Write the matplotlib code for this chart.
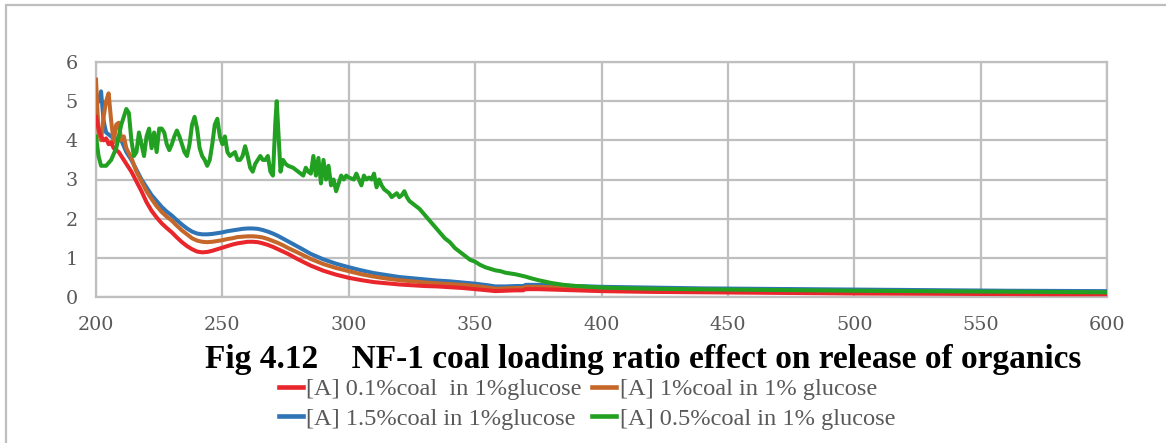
import matplotlib
matplotlib.use("Agg")
import matplotlib.pyplot as plt
from matplotlib.lines import Line2D
from matplotlib.patches import Rectangle

# Wavelength grid (nm) shared by the three smooth spectra
wl = [200, 201, 202, 203, 204, 205, 206, 207, 208, 209, 210, 211, 212, 214, 216,
      218, 220, 222, 224, 226, 228, 230, 232, 234, 236, 238, 240, 242, 244, 246,
      248, 250, 252, 254, 256, 258, 260, 262, 264, 266, 268, 270, 272, 274, 276,
      278, 280, 285, 290, 295, 300, 305, 310, 315, 320, 325, 330, 335, 340, 345,
      350, 355, 358, 362, 366, 369, 370, 375, 380, 390, 400, 420, 440, 460, 480,
      500, 520, 540, 560, 580, 600]

coal_01 = [4.6, 4.3, 4.1, 4.0, 4.05, 3.9, 3.95, 3.8, 3.75, 3.7, 3.6, 3.5, 3.4, 3.2, 2.95,
           2.7, 2.42, 2.2, 2.03, 1.88, 1.76, 1.65, 1.52, 1.4, 1.3, 1.22, 1.16, 1.14, 1.15, 1.18,
           1.22, 1.26, 1.3, 1.34, 1.37, 1.39, 1.41, 1.41, 1.4, 1.37, 1.33, 1.28, 1.22, 1.16, 1.1,
           1.03, 0.96, 0.8, 0.67, 0.57, 0.49, 0.43, 0.38, 0.35, 0.32, 0.3, 0.28, 0.27, 0.25, 0.23,
           0.2, 0.17, 0.15, 0.16, 0.17, 0.17, 0.2, 0.2, 0.19, 0.17, 0.15, 0.13, 0.12, 0.11, 0.1,
           0.09, 0.085, 0.08, 0.075, 0.07, 0.07]

coal_1 = [5.55, 4.2, 4.0, 4.6, 5.0, 5.2, 4.5, 3.95, 4.4, 4.45, 4.0, 4.1, 3.8, 3.55, 3.2,
          2.95, 2.7, 2.5, 2.32, 2.17, 2.05, 1.95, 1.82, 1.7, 1.6, 1.5, 1.44, 1.41, 1.4, 1.41,
          1.43, 1.45, 1.48, 1.5, 1.53, 1.54, 1.55, 1.55, 1.54, 1.52, 1.48, 1.43, 1.38, 1.32, 1.25,
          1.19, 1.13, 0.97, 0.84, 0.74, 0.66, 0.58, 0.52, 0.47, 0.43, 0.4, 0.37, 0.35, 0.33, 0.31,
          0.28, 0.24, 0.21, 0.22, 0.23, 0.23, 0.26, 0.26, 0.25, 0.23, 0.21, 0.19, 0.17, 0.16, 0.15,
          0.14, 0.13, 0.12, 0.115, 0.11, 0.11]

coal_15 = [4.9, 5.0, 5.25, 4.5, 4.2, 4.15, 4.1, 4.05, 4.05, 4.0, 4.0, 3.85, 3.7, 3.5, 3.25,
           3.0, 2.8, 2.6, 2.45, 2.3, 2.18, 2.08, 1.96, 1.85, 1.75, 1.67, 1.62, 1.6, 1.6, 1.61,
           1.63, 1.65, 1.68, 1.7, 1.72, 1.74, 1.75, 1.75, 1.74, 1.71, 1.67, 1.62, 1.56, 1.49, 1.42,
           1.35, 1.28, 1.1, 0.96, 0.85, 0.76, 0.68, 0.61, 0.56, 0.51, 0.48, 0.45, 0.42, 0.4, 0.37,
           0.34, 0.3, 0.27, 0.27, 0.28, 0.28, 0.31, 0.31, 0.3, 0.28, 0.26, 0.24, 0.22, 0.21, 0.2,
           0.19, 0.18, 0.17, 0.16, 0.155, 0.15]

# The 0.5% spectrum is noisy, so it has its own, denser wavelength list
wl_05 = [200, 201, 202, 204, 206, 208, 210, 212, 213, 214, 215, 216, 217, 218, 219,
         220, 221, 222, 223, 224, 225, 226, 227, 228, 229, 230, 231, 232, 233, 234,
         235, 236, 237, 238, 239, 240, 241, 242, 243, 244, 245, 246, 247, 248, 249,
         250, 251, 252, 253, 254, 255, 256, 257, 258, 259, 260, 261, 262, 263, 264,
         265, 266, 267, 268, 269, 270, 271, 271.5, 272, 273, 274, 275, 276, 278, 280,
         282, 283, 284, 285, 286, 287, 288, 289, 290, 291, 292, 293, 294, 295, 296,
         297, 298, 299, 300, 302, 303, 304, 305, 306, 307, 308, 309, 310, 311, 312,
         313, 314, 315, 316, 317, 318, 319, 320, 321, 322, 323, 324, 326, 328, 330,
         332, 334, 336, 338, 340, 342, 344, 346, 348, 350, 352, 354, 356, 358, 360,
         362, 364, 366, 368, 370, 372, 375, 380, 385, 390, 395, 400, 420, 450, 500,
         550, 600]

coal_05 = [4.1, 3.6, 3.35, 3.35, 3.5, 3.8, 4.4, 4.8, 4.7, 4.0, 3.6, 3.7, 4.2, 3.9, 3.6,
           4.1, 4.3, 3.8, 4.2, 3.7, 4.3, 4.3, 4.2, 3.9, 3.75, 3.9, 4.1, 4.25, 4.1, 3.9,
           3.7, 3.6, 3.9, 4.4, 4.6, 4.3, 3.8, 3.6, 3.5, 3.35, 3.5, 3.9, 4.4, 4.55, 4.1,
           3.9, 4.1, 3.7, 3.6, 3.65, 3.7, 3.5, 3.5, 3.6, 3.85, 3.6, 3.3, 3.2, 3.4, 3.5,
           3.6, 3.5, 3.5, 3.6, 3.2, 3.1, 4.5, 5.0, 4.4, 3.2, 3.5, 3.4, 3.35, 3.3, 3.2,
           3.1, 3.3, 3.2, 3.15, 3.6, 3.1, 3.55, 2.9, 3.5, 3.0, 3.35, 2.85, 3.0, 2.7, 2.9,
           3.1, 3.0, 3.1, 3.05, 3.0, 3.15, 3.0, 2.85, 3.1, 3.0, 3.05, 3.0, 3.15, 2.8, 3.0,
           2.85, 2.75, 2.7, 2.65, 2.55, 2.6, 2.65, 2.55, 2.6, 2.7, 2.55, 2.45, 2.35, 2.25, 2.1,
           1.95, 1.8, 1.65, 1.5, 1.4, 1.25, 1.15, 1.05, 0.95, 0.9, 0.82, 0.76, 0.72, 0.68, 0.66,
           0.62, 0.6, 0.58, 0.55, 0.52, 0.48, 0.43, 0.36, 0.31, 0.28, 0.26, 0.24, 0.21, 0.19, 0.16,
           0.14, 0.12]

labels = ["[A] 0.1%coal  in 1%glucose", "[A] 1%coal in 1% glucose",
          "[A] 1.5%coal in 1%glucose", "[A] 0.5%coal in 1% glucose"]
colors = ["#E8262B", "#C6672A", "#2F74B5", "#22A022"]

x_ticks = [200, 250, 300, 350, 400, 450, 500, 550, 600]
y_ticks = [0, 1, 2, 3, 4, 5, 6]

title = "Fig 4.12    NF-1 coal loading ratio effect on release of organics"

W, H = 1166, 443
fig = plt.figure(figsize=(W / 100, H / 100), dpi=100)
fig.patch.set_facecolor("white")

# Chart-area frame (only top and left edges fall inside the canvas)
fig.patches.append(Rectangle((6 / W, -0.1), 1.2, 1 - 5 / H + 0.1,
                             transform=fig.transFigure, fill=False,
                             edgecolor="#BEBEBE", linewidth=1.6))

ax = fig.add_axes([96 / W, 1 - 297 / H, (1107 - 96) / W, (297 - 62) / H])
grid_c = "#BFBFBF"
lw = 2.9
ax.plot(wl, coal_15, color=colors[2], lw=lw, solid_joinstyle="round", zorder=3)
ax.plot(wl, coal_1, color=colors[1], lw=lw, solid_joinstyle="round", zorder=4)
ax.plot(wl, coal_01, color=colors[0], lw=lw, solid_joinstyle="round", zorder=5)
ax.plot(wl_05, coal_05, color=colors[3], lw=lw, solid_joinstyle="round", zorder=6)

ax.set_xlim(200, 600)
ax.set_ylim(0, 6)
ax.set_xticks(x_ticks)
ax.set_yticks(y_ticks)
ax.grid(True, color=grid_c, linewidth=1.6)
ax.set_axisbelow(True)
for s in ax.spines.values():
    s.set_color(grid_c)
    s.set_linewidth(1.6)
ax.tick_params(length=0, labelsize=13.8, labelcolor="#595959")
ax.tick_params(axis="x", pad=14)
ax.tick_params(axis="y", pad=13)
for t in ax.get_xticklabels() + ax.get_yticklabels():
    t.set_family("DejaVu Serif")

fig.text(643 / W, 1 - 368 / H, title, ha="center", va="baseline",
         family="Liberation Serif", weight="bold", fontsize=24, color="black")

# Legend: two aligned columns, filled column-wise (red/blue, then orange/green)
order = [0, 2, 1, 3]
handles = [Line2D([], [], color=colors[i], lw=3.3) for i in order]
fig.legend(handles, [labels[i] for i in order], ncol=2, frameon=False,
           loc="upper left", bbox_to_anchor=(279 / W, 1 - 378 / H),
           prop={"family": "Liberation Serif", "size": 17.6},
           labelcolor="#595959", handlelength=0.98, handletextpad=0.14,
           columnspacing=0.42, labelspacing=0.3, borderaxespad=0, borderpad=0)

fig.savefig("out.png", dpi=100, facecolor="white")
